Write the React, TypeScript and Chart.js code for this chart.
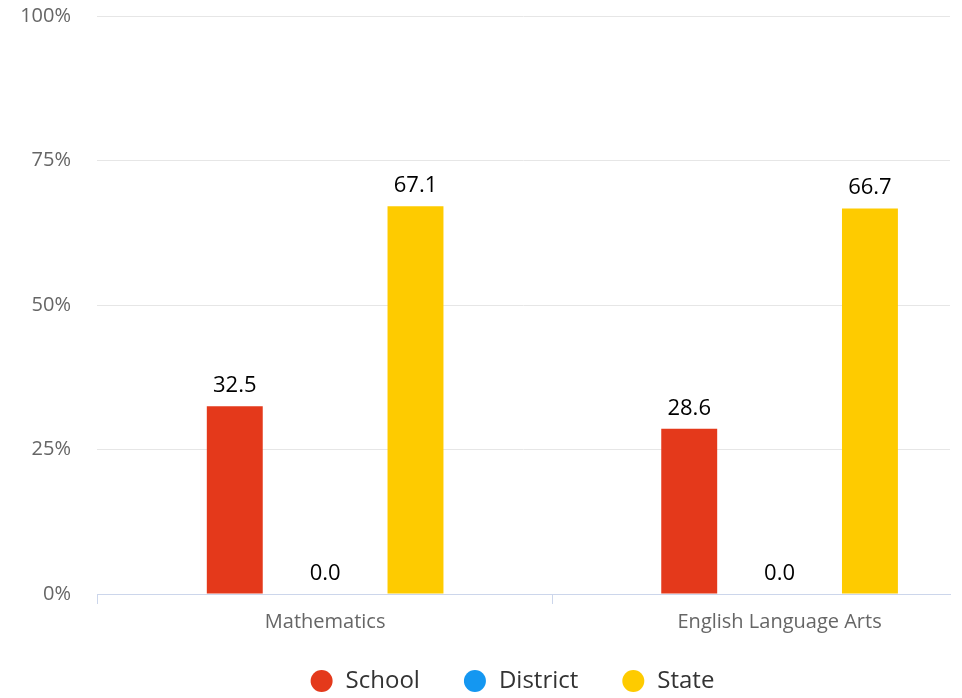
import React, { useEffect, useRef } from 'react';
import { Chart, registerables } from 'chart.js';

Chart.register(...registerables);

const categories = ['Mathematics', 'English Language Arts'];
const seriesNames = ['School', 'District', 'State'];
const schoolValues = [32.5, 28.6];
const districtValues = [0.0, 0.0];
const stateValues = [67.1, 66.7];
const yTickValues = [0, 25, 50, 75, 100];
const seriesColors = ['#e4391b', '#1497f1', '#fecb00'];

const FONT = '"Open Sans", "Noto Sans", sans-serif';

const valueLabelPlugin = {
  id: 'valueLabels',
  afterDatasetsDraw(chart: any) {
    const ctx = chart.ctx;
    ctx.save();
    ctx.font = `22px ${FONT}`;
    ctx.fillStyle = '#000000';
    ctx.textAlign = 'center';
    ctx.textBaseline = 'alphabetic';
    chart.data.datasets.forEach((ds: any, di: number) => {
      const meta = chart.getDatasetMeta(di);
      if (meta.hidden) return;
      meta.data.forEach((el: any, i: number) => {
        const v = ds.data[i].y;
        ctx.fillText(v.toFixed(1), el.x, el.y - 14);
      });
    });
    ctx.restore();
  },
};

// nudges the legend box so it sits centred under the original (wider) chart frame
const legendNudgePlugin = {
  id: 'legendNudge',
  afterLayout(chart: any) {
    const lg = chart.legend;
    if (!lg) return;
    const dx = 29;
    const dy = -8;
    lg.left += dx;
    lg.right += dx;
    lg.top += dy;
    lg.bottom += dy;
  },
};

export default function App() {
  const canvasRef = useRef<HTMLCanvasElement | null>(null);

  useEffect(() => {
    if (!canvasRef.current) return;
    const seriesValues = [schoolValues, districtValues, stateValues];
    const chart = new Chart(canvasRef.current, {
      type: 'bar',
      data: {
        datasets: seriesNames.map((name, si) => ({
          label: name,
          data: categories.map((_, ci) => ({ x: ci, y: seriesValues[si][ci] })),
          backgroundColor: seriesColors[si],
          borderWidth: 0,
          categoryPercentage: 0.5965,
          barPercentage: 0.619,
        })),
      },
      options: {
        responsive: false,
        animation: false,
        devicePixelRatio: 1,
        layout: { padding: { left: 16, right: 12, top: 16, bottom: 0 } },
        plugins: {
          tooltip: { enabled: false },
          legend: {
            position: 'bottom',
            labels: {
              usePointStyle: true,
              pointStyle: 'circle',
              boxWidth: 24,
              boxHeight: 15.56,
              padding: 43,
              color: '#333333',
              font: { size: 24, family: FONT },
            },
          },
        },
        scales: {
          x: {
            type: 'linear',
            offset: false,
            min: -0.502,
            max: 1.375,
            afterBuildTicks: (s: any) => {
              s.ticks = categories.map((_, i) => ({ value: i }));
            },
            afterFit: (s: any) => {
              s.height = 40;
            },
            ticks: {
              autoSkip: false,
              maxRotation: 0,
              padding: 6,
              color: '#666666',
              font: { size: 20, family: FONT },
              callback: (_v: any, i: number) => categories[i],
            },
            grid: {
              offset: true,
              drawOnChartArea: false,
              drawTicks: true,
              tickLength: 10,
              color: '#ccd6eb',
              lineWidth: 1,
            },
            border: { display: true, color: '#ccd6eb', width: 1 },
          },
          y: {
            type: 'linear',
            min: 0,
            max: 100,
            afterBuildTicks: (s: any) => {
              s.ticks = yTickValues.map((v) => ({ value: v }));
            },
            afterFit: (s: any) => {
              s.width = 81;
            },
            ticks: {
              padding: 2,
              color: '#666666',
              font: { size: 20, family: FONT },
              callback: (v: any) => `${v}%`,
            },
            grid: {
              color: '#e6e6e6',
              lineWidth: 1,
              drawTicks: true,
              tickLength: 24,
              tickColor: 'rgba(0,0,0,0)',
            },
            border: { display: false },
          },
        },
      },
      plugins: [valueLabelPlugin, legendNudgePlugin],
    } as any);
    return () => chart.destroy();
  }, []);

  return (
    <div style={{ position: 'absolute', left: 0, top: 0, width: 962, height: 698, overflow: 'hidden', background: '#ffffff' }}>
      <canvas ref={canvasRef} width={962} height={711} style={{ display: 'block' }} />
    </div>
  );
}
